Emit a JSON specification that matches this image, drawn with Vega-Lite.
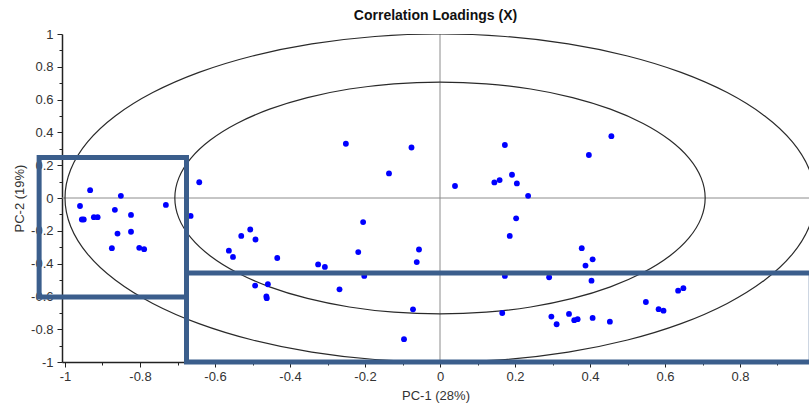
{
  "$schema": "https://vega.github.io/schema/vega-lite/v6.json",
  "autosize": "none",
  "width": 747,
  "height": 328,
  "padding": {"left": 62, "top": 34, "right": 0, "bottom": 41},
  "background": "white",
  "title": {"text": "Correlation Loadings (X)", "font": "Liberation Sans", "fontSize": 14, "fontWeight": "bold", "color": "#111", "anchor": "middle", "offset": 5},
  "config": {
    "view": {"stroke": null},
    "font": "Liberation Sans"
  },
  "datasets": {
    "points": [
      {"x": -0.960, "y": -0.049}, {"x": -0.955, "y": -0.131}, {"x": -0.950, "y": -0.131}, {"x": -0.933, "y": 0.048},
      {"x": -0.923, "y": -0.117}, {"x": -0.913, "y": -0.117}, {"x": -0.867, "y": -0.072}, {"x": -0.851, "y": 0.013},
      {"x": -0.824, "y": -0.103}, {"x": -0.860, "y": -0.217}, {"x": -0.824, "y": -0.206}, {"x": -0.875, "y": -0.306},
      {"x": -0.802, "y": -0.304}, {"x": -0.789, "y": -0.312}, {"x": -0.731, "y": -0.042}, {"x": -0.665, "y": -0.109},
      {"x": -0.642, "y": 0.096}, {"x": -0.530, "y": -0.231}, {"x": -0.506, "y": -0.192}, {"x": -0.492, "y": -0.253},
      {"x": -0.563, "y": -0.321}, {"x": -0.552, "y": -0.359}, {"x": -0.434, "y": -0.366}, {"x": -0.325, "y": -0.405},
      {"x": -0.307, "y": -0.420}, {"x": -0.493, "y": -0.534}, {"x": -0.459, "y": -0.526}, {"x": -0.463, "y": -0.600},
      {"x": -0.462, "y": -0.611}, {"x": -0.251, "y": 0.331}, {"x": -0.076, "y": 0.308}, {"x": -0.136, "y": 0.150},
      {"x": 0.040, "y": 0.073}, {"x": -0.205, "y": -0.147}, {"x": -0.218, "y": -0.330}, {"x": -0.056, "y": -0.314},
      {"x": -0.062, "y": -0.391}, {"x": -0.202, "y": -0.475}, {"x": -0.268, "y": -0.557}, {"x": -0.072, "y": -0.679},
      {"x": -0.096, "y": -0.861}, {"x": 0.173, "y": 0.323}, {"x": 0.457, "y": 0.377}, {"x": 0.397, "y": 0.262},
      {"x": 0.192, "y": 0.142}, {"x": 0.145, "y": 0.095}, {"x": 0.159, "y": 0.109}, {"x": 0.205, "y": 0.089},
      {"x": 0.235, "y": 0.013}, {"x": 0.203, "y": -0.124}, {"x": 0.186, "y": -0.231}, {"x": 0.378, "y": -0.306},
      {"x": 0.407, "y": -0.374}, {"x": 0.388, "y": -0.412}, {"x": 0.173, "y": -0.475}, {"x": 0.291, "y": -0.483},
      {"x": 0.404, "y": -0.504}, {"x": 0.166, "y": -0.701}, {"x": 0.297, "y": -0.723}, {"x": 0.311, "y": -0.770},
      {"x": 0.344, "y": -0.707}, {"x": 0.358, "y": -0.745}, {"x": 0.367, "y": -0.739}, {"x": 0.407, "y": -0.731},
      {"x": 0.453, "y": -0.754}, {"x": 0.549, "y": -0.634}, {"x": 0.583, "y": -0.678}, {"x": 0.596, "y": -0.687},
      {"x": 0.635, "y": -0.565}, {"x": 0.649, "y": -0.550}
    ],
    "cross": [
      {"c": "v", "i": 0, "x": 0, "y": -1}, {"c": "v", "i": 1, "x": 0, "y": 1},
      {"c": "h", "i": 0, "x": -1.008, "y": 0}, {"c": "h", "i": 1, "x": 0.984, "y": 0}
    ],
    "circles": [
      {"c": "outer", "i": 0, "x": 1, "y": 0}, {"c": "outer", "i": 1, "x": 0.9848, "y": 0.1736},
      {"c": "outer", "i": 2, "x": 0.9397, "y": 0.3420}, {"c": "outer", "i": 3, "x": 0.8660, "y": 0.5},
      {"c": "outer", "i": 4, "x": 0.7660, "y": 0.6428}, {"c": "outer", "i": 5, "x": 0.6428, "y": 0.7660},
      {"c": "outer", "i": 6, "x": 0.5, "y": 0.8660}, {"c": "outer", "i": 7, "x": 0.3420, "y": 0.9397},
      {"c": "outer", "i": 8, "x": 0.1736, "y": 0.9848}, {"c": "outer", "i": 9, "x": 0, "y": 1},
      {"c": "outer", "i": 10, "x": -0.1736, "y": 0.9848}, {"c": "outer", "i": 11, "x": -0.3420, "y": 0.9397},
      {"c": "outer", "i": 12, "x": -0.5, "y": 0.8660}, {"c": "outer", "i": 13, "x": -0.6428, "y": 0.7660},
      {"c": "outer", "i": 14, "x": -0.7660, "y": 0.6428}, {"c": "outer", "i": 15, "x": -0.8660, "y": 0.5},
      {"c": "outer", "i": 16, "x": -0.9397, "y": 0.3420}, {"c": "outer", "i": 17, "x": -0.9848, "y": 0.1736},
      {"c": "outer", "i": 18, "x": -1, "y": 0}, {"c": "outer", "i": 19, "x": -0.9848, "y": -0.1736},
      {"c": "outer", "i": 20, "x": -0.9397, "y": -0.3420}, {"c": "outer", "i": 21, "x": -0.8660, "y": -0.5},
      {"c": "outer", "i": 22, "x": -0.7660, "y": -0.6428}, {"c": "outer", "i": 23, "x": -0.6428, "y": -0.7660},
      {"c": "outer", "i": 24, "x": -0.5, "y": -0.8660}, {"c": "outer", "i": 25, "x": -0.3420, "y": -0.9397},
      {"c": "outer", "i": 26, "x": -0.1736, "y": -0.9848}, {"c": "outer", "i": 27, "x": 0, "y": -1},
      {"c": "outer", "i": 28, "x": 0.1736, "y": -0.9848}, {"c": "outer", "i": 29, "x": 0.3420, "y": -0.9397},
      {"c": "outer", "i": 30, "x": 0.5, "y": -0.8660}, {"c": "outer", "i": 31, "x": 0.6428, "y": -0.7660},
      {"c": "outer", "i": 32, "x": 0.7660, "y": -0.6428}, {"c": "outer", "i": 33, "x": 0.8660, "y": -0.5},
      {"c": "outer", "i": 34, "x": 0.9397, "y": -0.3420}, {"c": "outer", "i": 35, "x": 0.9848, "y": -0.1736},
      {"c": "inner", "i": 0, "x": 0.7071, "y": 0}, {"c": "inner", "i": 1, "x": 0.6964, "y": 0.1228},
      {"c": "inner", "i": 2, "x": 0.6645, "y": 0.2418}, {"c": "inner", "i": 3, "x": 0.6124, "y": 0.3536},
      {"c": "inner", "i": 4, "x": 0.5417, "y": 0.4545}, {"c": "inner", "i": 5, "x": 0.4545, "y": 0.5417},
      {"c": "inner", "i": 6, "x": 0.3536, "y": 0.6124}, {"c": "inner", "i": 7, "x": 0.2418, "y": 0.6645},
      {"c": "inner", "i": 8, "x": 0.1228, "y": 0.6964}, {"c": "inner", "i": 9, "x": 0, "y": 0.7071},
      {"c": "inner", "i": 10, "x": -0.1228, "y": 0.6964}, {"c": "inner", "i": 11, "x": -0.2418, "y": 0.6645},
      {"c": "inner", "i": 12, "x": -0.3536, "y": 0.6124}, {"c": "inner", "i": 13, "x": -0.4545, "y": 0.5417},
      {"c": "inner", "i": 14, "x": -0.5417, "y": 0.4545}, {"c": "inner", "i": 15, "x": -0.6124, "y": 0.3536},
      {"c": "inner", "i": 16, "x": -0.6645, "y": 0.2418}, {"c": "inner", "i": 17, "x": -0.6964, "y": 0.1228},
      {"c": "inner", "i": 18, "x": -0.7071, "y": 0}, {"c": "inner", "i": 19, "x": -0.6964, "y": -0.1228},
      {"c": "inner", "i": 20, "x": -0.6645, "y": -0.2418}, {"c": "inner", "i": 21, "x": -0.6124, "y": -0.3536},
      {"c": "inner", "i": 22, "x": -0.5417, "y": -0.4545}, {"c": "inner", "i": 23, "x": -0.4545, "y": -0.5417},
      {"c": "inner", "i": 24, "x": -0.3536, "y": -0.6124}, {"c": "inner", "i": 25, "x": -0.2418, "y": -0.6645},
      {"c": "inner", "i": 26, "x": -0.1228, "y": -0.6964}, {"c": "inner", "i": 27, "x": 0, "y": -0.7071},
      {"c": "inner", "i": 28, "x": 0.1228, "y": -0.6964}, {"c": "inner", "i": 29, "x": 0.2418, "y": -0.6645},
      {"c": "inner", "i": 30, "x": 0.3536, "y": -0.6124}, {"c": "inner", "i": 31, "x": 0.4545, "y": -0.5417},
      {"c": "inner", "i": 32, "x": 0.5417, "y": -0.4545}, {"c": "inner", "i": 33, "x": 0.6124, "y": -0.3536},
      {"c": "inner", "i": 34, "x": 0.6645, "y": -0.2418}, {"c": "inner", "i": 35, "x": 0.6964, "y": -0.1228}
    ],
    "boxes": [
      {"x": -1.069, "x2": -0.676, "y": 0.247, "y2": -0.603},
      {"x": -0.676, "x2": 0.99, "y": -0.458, "y2": -1.0}
    ]
  },
  "encoding": {
    "x": {
      "field": "x", "type": "quantitative",
      "scale": {"domain": [-1.008, 0.984], "nice": false, "zero": false},
      "axis": {
        "title": "PC-1 (28%)",
        "values": [-1, -0.9, -0.8, -0.7, -0.6, -0.5, -0.4, -0.3, -0.2, -0.1, 0, 0.1, 0.2, 0.3, 0.4, 0.5, 0.6, 0.7, 0.8, 0.9],
        "labelExpr": "abs(round(datum.value*10)) % 2 == 0 ? (datum.value < -0.001 ? '-' : '') + toString(abs(round(datum.value*10))/10) : ''",
        "tickSize": {"condition": {"test": "abs(round(datum.value*10)) % 2 == 0", "value": 5}, "value": 3},
        "grid": false,
        "domainColor": "#222222", "domainWidth": 1.5,
        "tickColor": "#222222", "tickWidth": 1,
        "labelFont": "Liberation Sans", "labelFontSize": 13, "labelColor": "#333333", "labelPadding": 3,
        "labelFlush": false, "labelOverlap": false, "labelBound": false,
        "titleFont": "Liberation Sans", "titleFontSize": 13, "titleFontWeight": "normal", "titleColor": "#333333", "titlePadding": 6
      }
    },
    "y": {
      "field": "y", "type": "quantitative",
      "scale": {"domain": [-1, 1], "nice": false, "zero": false},
      "axis": {
        "title": "PC-2 (19%)",
        "values": [-1, -0.9, -0.8, -0.7, -0.6, -0.5, -0.4, -0.3, -0.2, -0.1, 0, 0.1, 0.2, 0.3, 0.4, 0.5, 0.6, 0.7, 0.8, 0.9, 1],
        "labelExpr": "abs(round(datum.value*10)) % 2 == 0 ? (datum.value < -0.001 ? '-' : '') + toString(abs(round(datum.value*10))/10) : ''",
        "tickSize": {"condition": {"test": "abs(round(datum.value*10)) % 2 == 0", "value": 5}, "value": 3},
        "grid": false,
        "domainColor": "#222222", "domainWidth": 1.5,
        "tickColor": "#222222", "tickWidth": 1,
        "labelFont": "Liberation Sans", "labelFontSize": 13, "labelColor": "#333333", "labelPadding": 4,
        "labelFlush": false, "labelOverlap": false, "labelBound": false,
        "titleFont": "Liberation Sans", "titleFontSize": 13, "titleFontWeight": "normal", "titleColor": "#333333", "titlePadding": 4
      }
    }
  },
  "layer": [
    {
      "data": {"name": "cross"},
      "mark": {"type": "line", "color": "#8c8c8c", "strokeWidth": 1, "clip": true},
      "encoding": {
        "detail": {"field": "c"},
        "order": {"field": "i", "type": "quantitative"}
      }
    },
    {
      "data": {"name": "circles"},
      "mark": {"type": "line", "color": "#2a2a2a", "strokeWidth": 1.2, "interpolate": "cardinal-closed", "clip": true},
      "encoding": {
        "detail": {"field": "c"},
        "order": {"field": "i", "type": "quantitative"}
      }
    },
    {
      "data": {"name": "points"},
      "mark": {"type": "point", "filled": true, "color": "#0000ff", "opacity": 1, "size": 34}
    },
    {
      "data": {"name": "boxes"},
      "mark": {"type": "rect", "filled": false, "color": "#3b5e8c", "stroke": "#3b5e8c", "strokeWidth": 5, "clip": false},
      "encoding": {
        "x2": {"field": "x2"},
        "y2": {"field": "y2"}
      }
    }
  ]
}
